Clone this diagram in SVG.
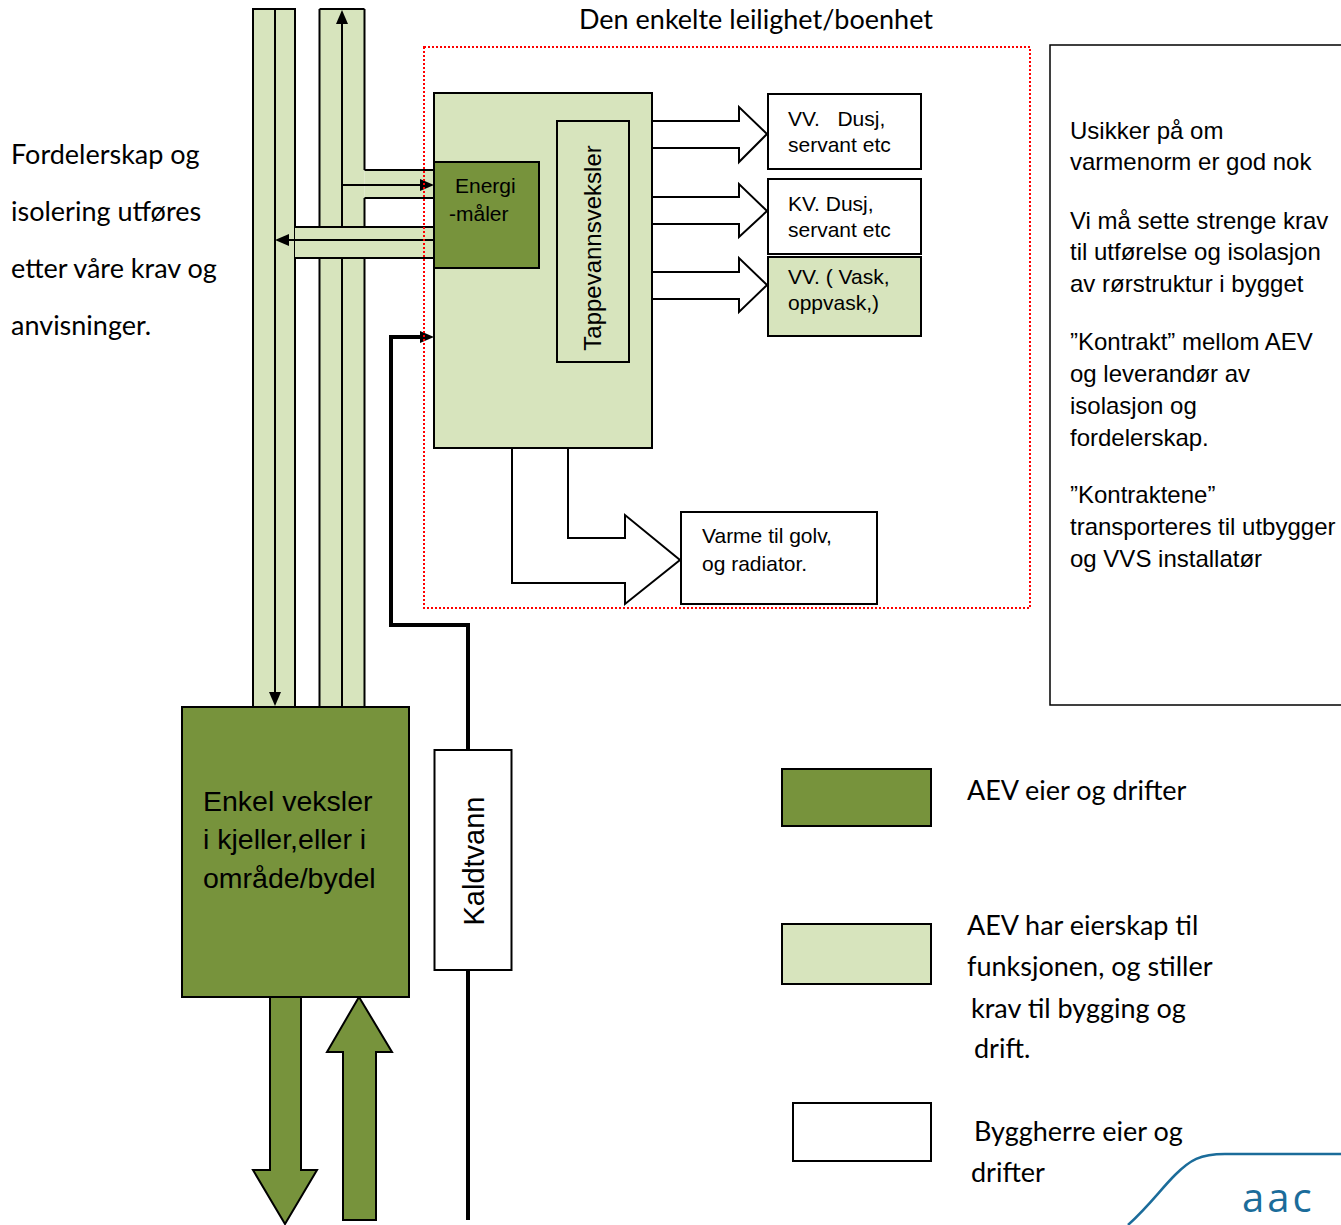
<svg xmlns="http://www.w3.org/2000/svg" width="1341" height="1225" viewBox="0 0 1341 1225">
<defs>
<style>
.dk{fill:#77933C;stroke:#000;stroke-width:2}
.lt{fill:#D7E4BD;stroke:#000;stroke-width:2}
.wh{fill:#fff;stroke:#000;stroke-width:2}
.ln{fill:none;stroke:#000;stroke-width:2}
.ar{font-family:"Liberation Sans",Arial,sans-serif;fill:#000}
.cal{font-family:Lato,"Open Sans",sans-serif;font-size:27px;fill:#000}
.pn{font-size:24px}
.bx{font-size:21px}
</style>
<marker id="ah" markerUnits="userSpaceOnUse" markerWidth="16" markerHeight="14" refX="2" refY="6" orient="auto">
<path d="M0,0 L14,6 L0,12 z" fill="#000"/>
</marker>
</defs>
<rect width="1341" height="1225" fill="#fff"/>

<g id="pipes">
<rect x="253" y="9" width="42" height="698" class="lt"/>
<rect x="319.5" y="9" width="45" height="698" fill="#D7E4BD" stroke="none"/>
<line x1="319.5" y1="9" x2="364.5" y2="9" class="ln"/>
<path d="M319.5,9 V227 M319.5,258 V707 M364.5,9 V170 M364.5,198 V227 M364.5,258 V707" class="ln"/>
<rect x="364.5" y="170" width="70" height="28" fill="#D7E4BD"/>
<path d="M364.5,170 H434 M364.5,198 H434" class="ln"/>
<rect x="295" y="227" width="139" height="31" fill="#D7E4BD"/>
<path d="M295,227 H434 M295,258 H434" class="ln"/>
</g>

<g id="connectors">
<line x1="275" y1="9" x2="275" y2="694" class="ln" marker-end="url(#ah)"/>
<line x1="342" y1="707" x2="342" y2="258" class="ln"/>
<line x1="342" y1="227" x2="342" y2="22" class="ln" marker-end="url(#ah)"/>
<line x1="342" y1="185" x2="422" y2="185" class="ln" marker-end="url(#ah)"/>
<line x1="434" y1="240" x2="287" y2="240" class="ln" marker-end="url(#ah)"/>
<polyline points="468,1220 468,625 391,625 391,337 422,337" fill="none" stroke="#000" stroke-width="4" marker-end="url(#ah)"/>
<polygon points="652,121 739,121 739,107 767,134 739,162 739,148 652,148" class="wh"/>
<polygon points="652,197 739,197 739,184 767,211 739,237 739,224 652,224" class="wh"/>
<polygon points="652,272 739,272 739,258 767,285 739,312 739,299 652,299" class="wh"/>
<polygon points="512,448 512,583 625,583 625,604 680,560 625,515 625,538 568,538 568,448" class="wh"/>
<polygon points="270,997 301,997 301,1170 317,1170 285,1224 253,1170 270,1170" class="dk"/>
<polygon points="359,997 392,1052 376,1052 376,1220 343,1220 343,1052 327,1052" class="dk"/>
</g>

<rect id="unit-frame" x="424" y="47" width="606" height="561" fill="none" stroke="#FF0000" stroke-width="2" stroke-dasharray="2,2"/>
<text class="cal" x="579" y="29">Den enkelte leilighet/boenhet</text>

<g id="apartment-unit">
<rect x="434" y="93" width="218" height="355" class="lt"/>
</g>
<g id="tappevannsveksler">
<rect x="557" y="121" width="72" height="241" class="lt"/>
<text class="ar" font-size="24" transform="translate(601,248) rotate(-90)" text-anchor="middle">Tappevannsveksler</text>
</g>
<g id="energimaler">
<rect x="434" y="162" width="105" height="106" class="dk"/>
<text class="ar bx" x="455" y="193">Energi</text>
<text class="ar bx" x="449" y="221">-måler</text>
</g>

<g id="vv-dusj">
<rect x="768" y="94" width="153" height="75" class="wh"/>
<text class="ar bx" x="788" y="126" xml:space="preserve">VV.   Dusj,</text>
<text class="ar bx" x="788" y="152">servant etc</text>
</g>
<g id="kv-dusj">
<rect x="768" y="179" width="153" height="75" class="wh"/>
<text class="ar bx" x="788" y="211">KV. Dusj,</text>
<text class="ar bx" x="788" y="237">servant etc</text>
</g>
<g id="vv-vask">
<rect x="768" y="257" width="153" height="79" class="lt"/>
<text class="ar bx" x="788" y="284">VV. ( Vask,</text>
<text class="ar bx" x="788" y="310">oppvask,)</text>
</g>
<g id="varme">
<rect x="681" y="512" width="196" height="92" class="wh"/>
<text class="ar bx" x="702" y="543">Varme til golv,</text>
<text class="ar bx" x="702" y="571">og radiator.</text>
</g>

<g id="veksler">
<rect x="182" y="707" width="227" height="290" class="dk"/>
<text class="ar" font-size="28.5" x="203" y="811">Enkel veksler</text>
<text class="ar" font-size="28.5" x="203" y="849">i kjeller,eller i</text>
<text class="ar" font-size="28.5" x="203" y="888">område/bydel</text>
</g>

<g id="kaldtvann">
<rect x="434.5" y="750" width="77" height="220" class="wh"/>
<text class="ar" font-size="29" transform="translate(484,861) rotate(-90)" text-anchor="middle">Kaldtvann</text>
</g>

<g id="left-note">
<text class="cal" x="11" y="164">Fordelerskap og</text>
<text class="cal" x="11" y="221">isolering utføres</text>
<text class="cal" x="11" y="278">etter våre krav og</text>
<text class="cal" x="11" y="335">anvisninger.</text>
</g>

<g id="right-note">
<rect x="1050" y="45" width="300" height="660" fill="#fff" stroke="#000" stroke-width="1.5"/>
<text class="ar pn" x="1070" y="139">Usikker på om</text>
<text class="ar pn" x="1070" y="170">varmenorm er god nok</text>
<text class="ar pn" x="1070" y="229">Vi må sette strenge krav</text>
<text class="ar pn" x="1070" y="260">til utførelse og isolasjon</text>
<text class="ar pn" x="1070" y="292">av rørstruktur i bygget</text>
<text class="ar pn" x="1070" y="350">”Kontrakt” mellom AEV</text>
<text class="ar pn" x="1070" y="382">og leverandør av</text>
<text class="ar pn" x="1070" y="414">isolasjon og</text>
<text class="ar pn" x="1070" y="446">fordelerskap.</text>
<text class="ar pn" x="1070" y="503">”Kontraktene”</text>
<text class="ar pn" x="1070" y="535">transporteres til utbygger</text>
<text class="ar pn" x="1070" y="567">og VVS installatør</text>
</g>

<g id="legend-dark">
<rect x="782" y="769" width="149" height="57" class="dk"/>
<text class="cal" x="967" y="800">AEV eier og drifter</text>
</g>
<g id="legend-light">
<rect x="782" y="924" width="149" height="60" class="lt"/>
<text class="cal" x="967" y="935">AEV har eierskap til</text>
<text class="cal" x="967" y="976">funksjonen, og stiller</text>
<text class="cal" x="971" y="1018">krav til bygging og</text>
<text class="cal" x="974" y="1058">drift.</text>
</g>
<g id="legend-white">
<rect x="793" y="1103" width="138" height="58" class="wh"/>
<text class="cal" x="974" y="1141">Byggherre eier og</text>
<text class="cal" x="971" y="1182">drifter</text>
</g>

<g id="logo">
<path d="M1128,1225 C1150,1205 1160,1190 1175,1175 C1190,1160 1200,1154 1225,1154 L1341,1154" fill="none" stroke="#1B6C9A" stroke-width="2.5"/>
<text x="1242" y="1212" font-family="'Open Sans',sans-serif" font-size="40" letter-spacing="3" fill="#1B6C9A">aac</text>
</g>
</svg>
